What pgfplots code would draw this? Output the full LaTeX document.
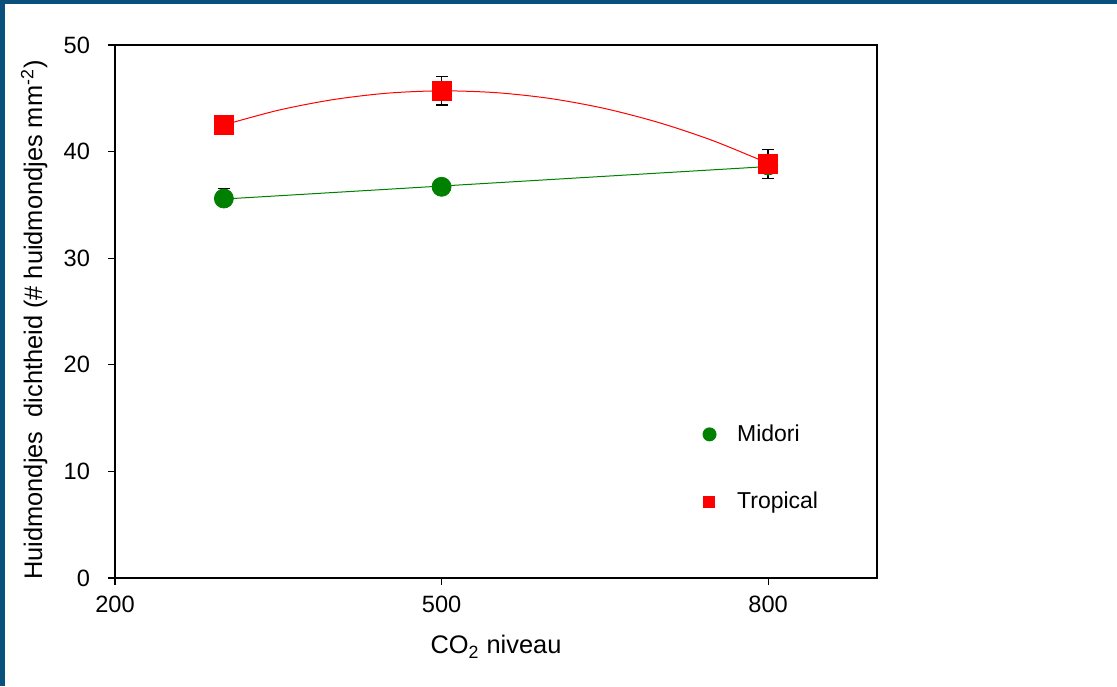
\documentclass[border=0pt]{standalone}
\usepackage{pgfplots}
\pgfplotsset{compat=1.18}
\usepackage{fontspec}
\setmainfont{Liberation Sans}
\definecolor{frameblue}{RGB}{10,80,125}
\definecolor{mgreen}{RGB}{0,128,0}
\definecolor{mred}{RGB}{255,0,0}
\begin{document}
\begin{tikzpicture}[x=1pt,y=1pt]
\useasboundingbox (0,0) rectangle (558.5,343);
\fill[white] (0,0) rectangle (558.5,343);
\fill[frameblue] (0,341) rectangle (558.5,343);
\fill[frameblue] (0,0) rectangle (2.5,343);
\begin{axis}[at={(57.5pt,54pt)}, anchor=south west, scale only axis,
  width=381pt, height=266.5pt,
  xmin=200, xmax=900, ymin=0, ymax=50,
  xtick={200,500,800}, ytick={0,10,20,30,40,50},
  tick align=outside, xtick pos=bottom, ytick pos=left, major tick length=3.5pt,
  axis line style={line width=0.75pt}, tick style={black, line width=0.6pt},
  /pgf/number format/assume math mode=true,
  ticklabel style={font=\fontsize{11.8}{13.5}\selectfont},
  xticklabel style={yshift=-2pt},
  yticklabel style={xshift=-5.5pt},
  xlabel={CO\textsubscript{2} niveau},
  ylabel={Huidmondjes\ \ dichtheid (\# huidmondjes mm\textsuperscript{-2})},
  label style={font=\fontsize{12.7}{14.5}\selectfont},
  xlabel style={at={(axis description cs:0.5,-0.129)}, anchor=center},
  ylabel style={at={(axis description cs:-0.106,0.484)}, anchor=center},
  legend style={at={(axis cs:739,10.3)}, anchor=west, draw=none, fill=none,
    inner sep=0pt, row sep=20pt, font=\fontsize{11.5}{13.5}\selectfont,
    cells={anchor=west}},
  clip=false,
]
\addplot[mgreen, line width=0.5pt, forget plot] coordinates {(300,35.55) (800,38.6)};
\addplot[mred, line width=0.5pt, smooth, forget plot] coordinates {
 (300,42.5) (350,43.88) (400,44.87) (450,45.48) (500,45.7) (550,45.53)
 (600,44.98) (650,44.04) (700,42.71) (750,41.0) (800,38.9)};
\addplot[only marks, mark=*, mark size=4.75pt, mark options={draw=mgreen, fill=mgreen},
  legend image code/.code={\path[draw=none] (0,0) -- (15.5pt,0);
    \node[circle, draw=none, fill=mgreen, inner sep=0pt, minimum size=7pt] at (0,0) {};},
  error bars/.cd, y dir=both, y explicit,
  error bar style={black, line width=0.75pt},
  error mark options={rotate=90, mark size=3pt, black, line width=0.75pt}]
  coordinates {(300,35.6) += (0,0.95) -= (0,0.5) (500,36.7) +- (0,0.5) (800,38.7) +- (0,0.5)};
\addlegendentry{Midori}
\addplot[only marks, mark=square*, mark size=4.75pt, mark options={draw=mred, fill=mred},
  legend image code/.code={\path[draw=none] (0,0) -- (15.5pt,0);
    \node[rectangle, draw=none, fill=mred, inner sep=0pt, minimum size=6pt] at (0,0) {};},
  error bars/.cd, y dir=both, y explicit,
  error bar style={black, line width=0.75pt},
  error mark options={rotate=90, mark size=3pt, black, line width=0.75pt}]
  coordinates {(300,42.5) +- (0,0.5) (500,45.7) +- (0,1.35) (800,38.85) +- (0,1.35)};
\addlegendentry{Tropical}
\end{axis}
\end{tikzpicture}
\end{document}
